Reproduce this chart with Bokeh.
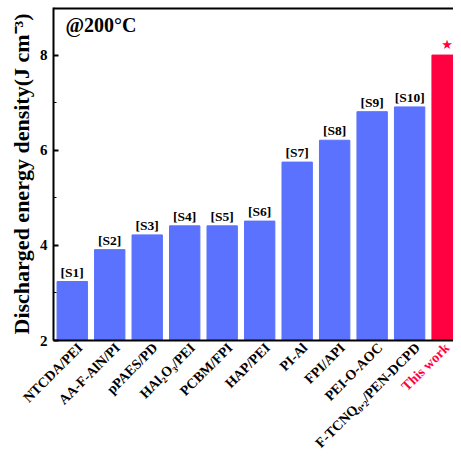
import math
from bokeh.plotting import figure
from bokeh.models import Range1d, FixedTicker, Label, ColumnDataSource, Span
from bokeh.core.properties import value
from bokeh.embed import file_html
from bokeh.resources import INLINE

materials = ["NTCDA/PEI", "AA-F-AlN/PI", "pPAES/PD", "HAl\u2082O\u2083/PEI", "PCBM/FPI",
             "HAP/PEI", "PI-Al", "FPI/API", "PEI-O-AOC", "F-TCNQ\u2080.\u2082/PEN-DCPD", "This work"]
refs = ["[S1]", "[S2]", "[S3]", "[S4]", "[S5]", "[S6]", "[S7]", "[S8]", "[S9]", "[S10]", ""]
energy = [3.24, 3.91, 4.22, 4.41, 4.41, 4.51, 5.75, 6.21, 6.81, 6.91, 8.0]
y_ticks = [2, 4, 6, 8]
y_minor = [3, 5, 7]
y_min, y_max = 2, 9

BLUE = "#5a72fd"
RED = "#ff0040"
FONT = "Liberation Serif"

xs = list(range(len(materials)))
colors = [BLUE] * (len(materials) - 1) + [RED]
base = [y_min] * len(materials)
src = ColumnDataSource(dict(x=xs, top=energy, color=colors, ref=refs, base=base))
src_black = ColumnDataSource(dict(x=xs[:-1], base=base[:-1], name=materials[:-1]))
src_red = ColumnDataSource(dict(x=xs[-1:], base=base[-1:], name=materials[-1:]))

p = figure(width=453, height=453, output_backend="svg", toolbar_location=None,
           x_range=Range1d(-0.5, 10.17), y_range=Range1d(y_min, y_max),
           min_border_left=53, min_border_right=0, min_border_top=7, min_border_bottom=113)
p.grid.visible = False
p.outline_line_color = None
p.background_fill_color = "white"

p.vbar(x="x", top="top", bottom="base", width=0.81, color="color", source=src)
p.text(x="x", y="top", text="ref", source=src, text_align="center", text_baseline="bottom",
       y_offset=-2, text_font=value(FONT), text_font_style="bold", text_font_size="13.5px",
       text_color="black")
star = p.text(x=[xs[-1]], y=[energy[-1]], text=["\u2605"], text_align="center",
              text_baseline="bottom", y_offset=-3, text_font_size="13px", text_color=RED,
              text_font=value("DejaVu Sans"))

# top border line
p.add_layout(Span(location=y_max, dimension="width", line_color="black", line_width=4))

p.add_layout(Label(x=-0.18, y=8.86, text="@200\u00b0C", text_font=FONT, text_font_style="bold",
                   text_font_size="20px", text_baseline="top", text_color="black"))

# x axis: line only; category labels drawn as rotated text on the overlay level
p.xaxis.ticker = FixedTicker(ticks=[])
p.xaxis.major_tick_in = 0
p.xaxis.major_tick_out = 0
p.xaxis.minor_tick_in = 0
p.xaxis.minor_tick_out = 0
p.xaxis.axis_line_width = 2

lbl_black = p.text(x="x", y="base", text="name", source=src_black, angle=math.pi / 4,
                   text_align="right", text_baseline="middle", x_offset=8, y_offset=5,
                   text_font=value(FONT), text_font_style="bold", text_font_size="14px",
                   text_color="black")
lbl_black.level = "overlay"
lbl_red = p.text(x="x", y="base", text="name", source=src_red, angle=math.pi / 4,
                 text_align="right", text_baseline="middle", x_offset=0, y_offset=5,
                 text_font=value(FONT), text_font_style="bold", text_font_size="14px",
                 text_color=RED)
lbl_red.level = "overlay"

# y axis
p.yaxis.ticker = FixedTicker(ticks=y_ticks, minor_ticks=y_minor)
p.yaxis.major_tick_in = 5
p.yaxis.major_tick_out = 0
p.yaxis.minor_tick_in = 3
p.yaxis.minor_tick_out = 0
p.yaxis.major_tick_line_width = 2
p.yaxis.axis_line_width = 2
p.yaxis.major_label_text_font = FONT
p.yaxis.major_label_text_font_style = "bold"
p.yaxis.major_label_text_font_size = "15px"
p.yaxis.major_label_text_color = "black"
p.yaxis.major_label_standoff = 6
p.yaxis.axis_label = "Discharged energy density(J cm\u207b\u00b3)"
p.yaxis.axis_label_text_font = FONT
p.yaxis.axis_label_text_font_style = "bold"
p.yaxis.axis_label_text_font_size = "22px"
p.yaxis.axis_label_text_color = "black"
p.yaxis.axis_label_standoff = 3

open("out.html", "w").write(file_html(p, INLINE))
